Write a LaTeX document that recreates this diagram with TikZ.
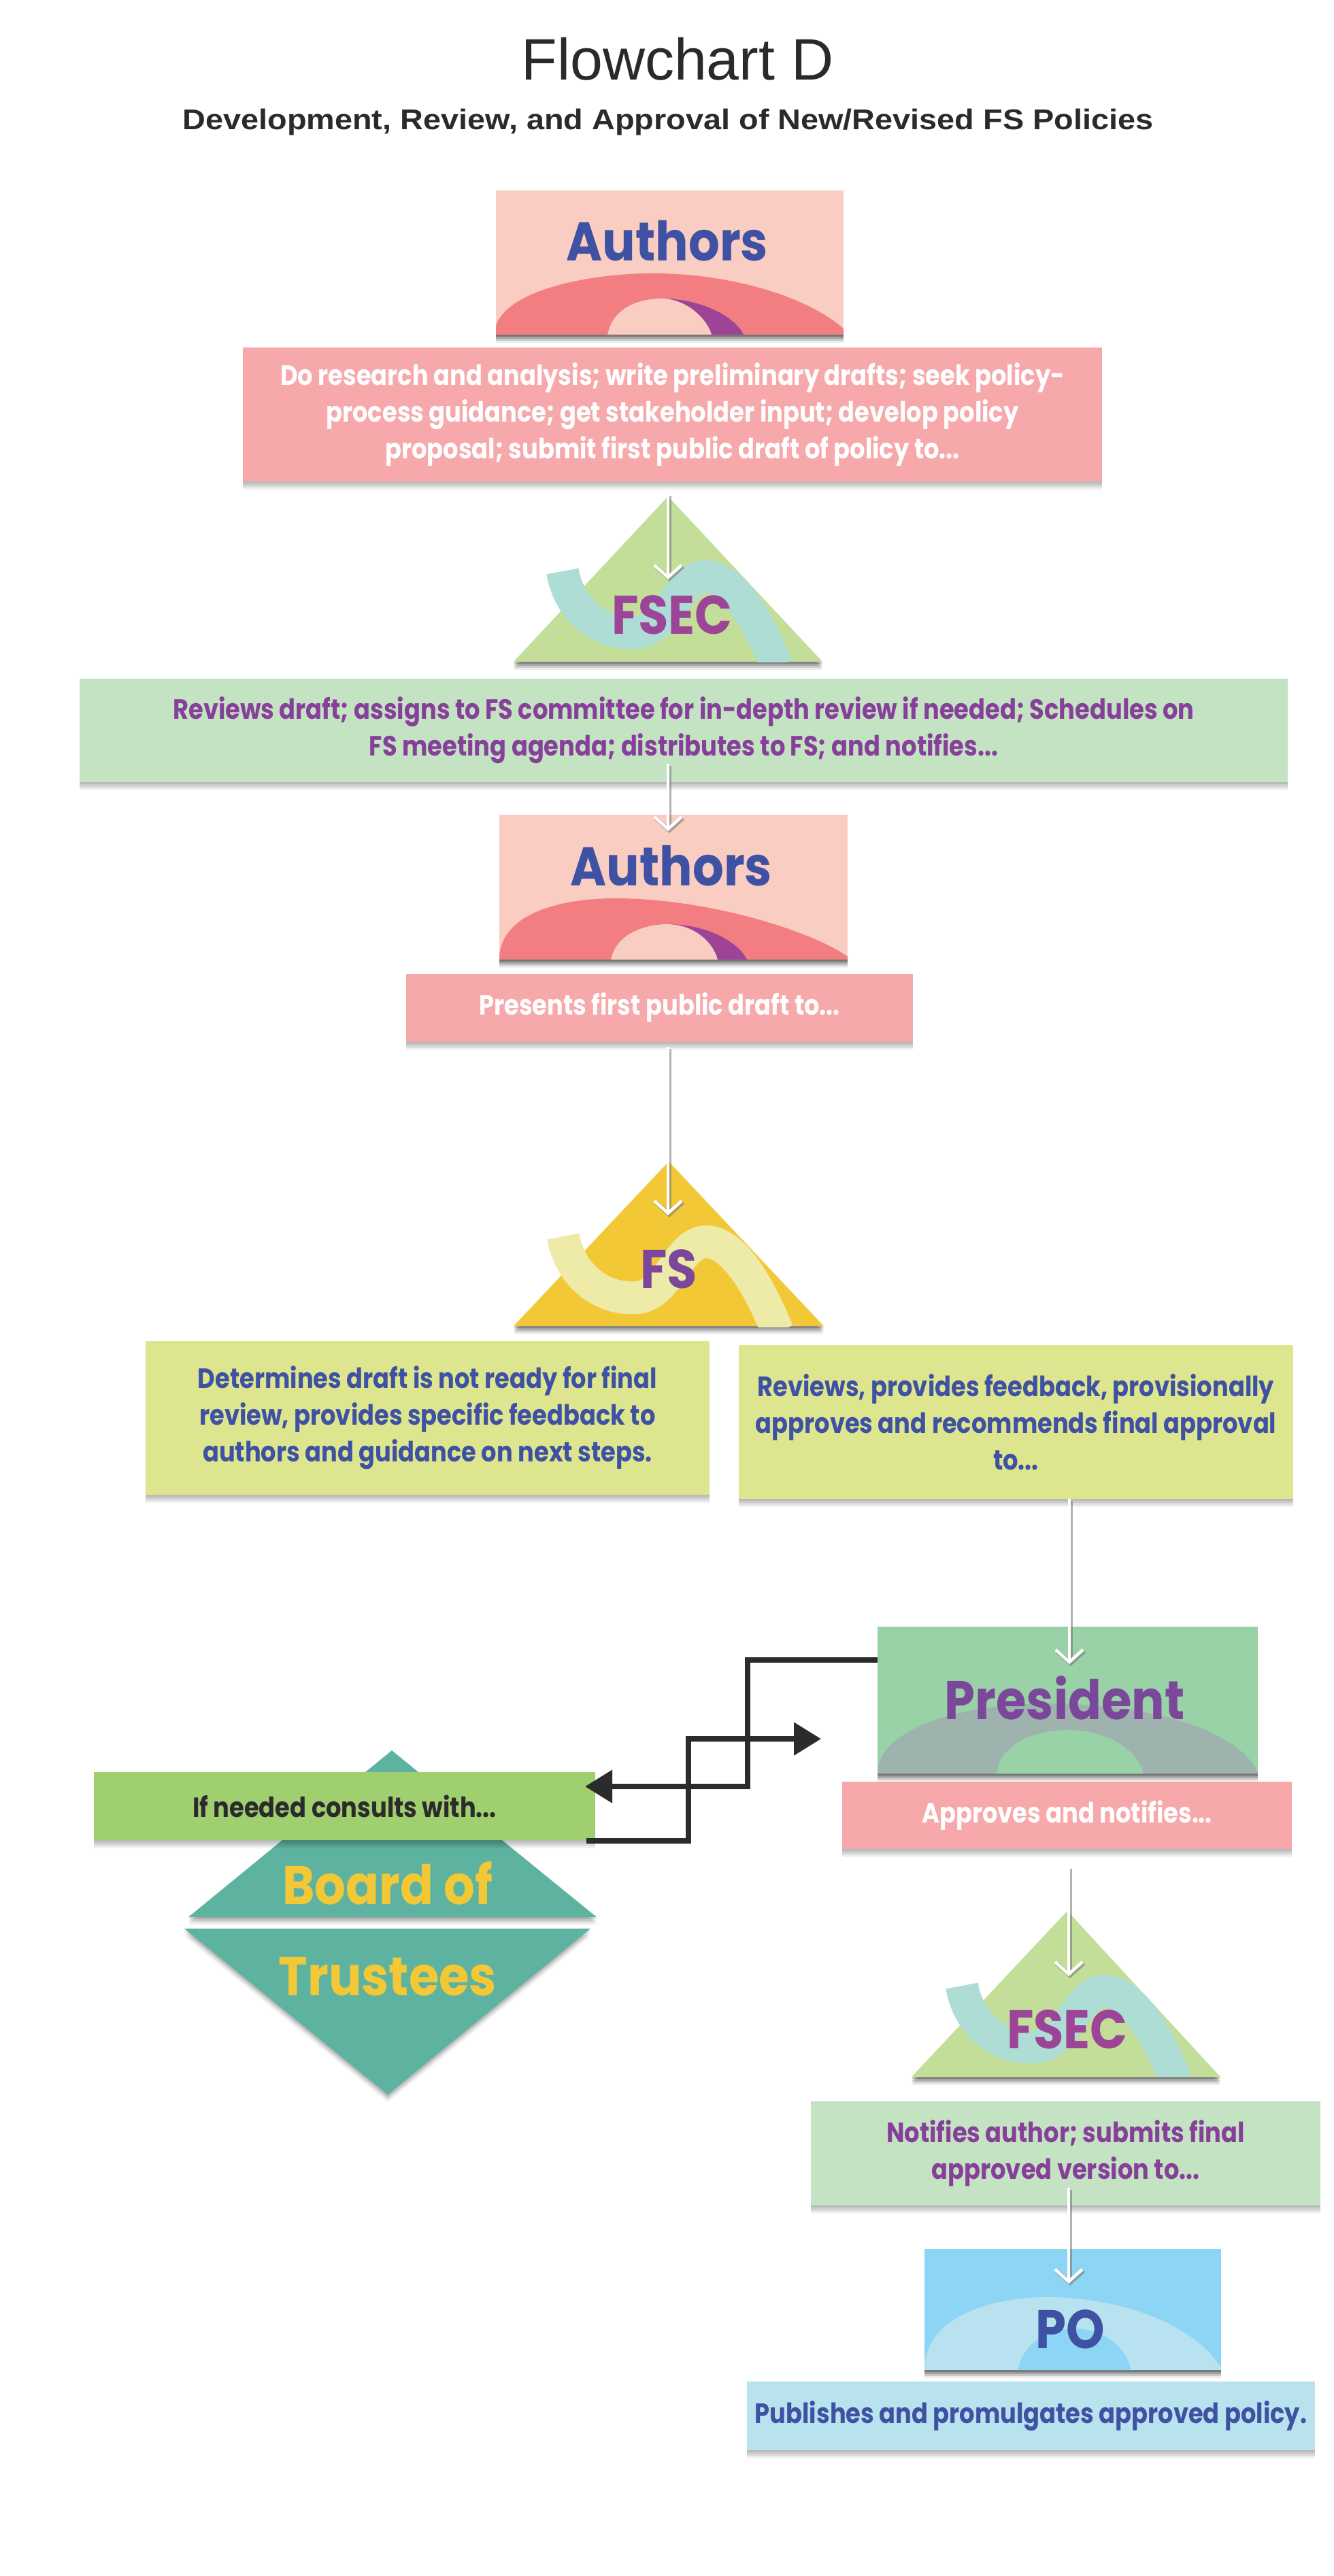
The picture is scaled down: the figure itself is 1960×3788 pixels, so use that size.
\documentclass[tikz,border=0pt]{standalone}
\usepackage{fontspec}
\setmainfont{Liberation Sans}
\newfontfamily\bodyfont[FakeStretch=0.86]{Poppins}
\newfontfamily\labelfont[FakeStretch=0.9]{Poppins}
\newfontfamily\subfont[FakeStretch=1.115]{Liberation Sans}
\usetikzlibrary{arrows.meta,shadows,calc}
\definecolor{titlegray}{HTML}{2A2A2A}
\definecolor{authbg}{HTML}{FACDC2}
\definecolor{archpink}{HTML}{F27E81}
\definecolor{archpurple}{HTML}{9E4497}
\definecolor{authblue}{HTML}{3F51A3}
\definecolor{pinkbox}{HTML}{F7A8AB}
\definecolor{fsecgreen}{HTML}{C3DE98}
\definecolor{tealribbon}{HTML}{AEDDD6}
\definecolor{fsecpurple}{HTML}{9C4497}
\definecolor{mintbox}{HTML}{C4E3C3}
\definecolor{minttext}{HTML}{87409A}
\definecolor{fsyellow}{HTML}{F2C837}
\definecolor{paleyellow}{HTML}{EEEBA8}
\definecolor{fspurple}{HTML}{7B479B}
\definecolor{limebox}{HTML}{DDE68E}
\definecolor{presgreen}{HTML}{9AD2A8}
\definecolor{presarch}{HTML}{9FB3AE}
\definecolor{consultgreen}{HTML}{A0CF70}
\definecolor{darktext}{HTML}{2B2B2B}
\definecolor{boardteal}{HTML}{5EB3A0}
\definecolor{poblue}{HTML}{8DD5F4}
\definecolor{poarch}{HTML}{B8E2EF}
\definecolor{pubbox}{HTML}{B8E2EE}
\tikzset{
  txtbox/.style={rectangle, inner sep=0pt, outer sep=0pt, align=center,
    font=\bodyfont\bfseries\fontsize{41}{54}\selectfont,
    drop shadow={shadow xshift=0pt, shadow yshift=-3pt, opacity=.08, fill=black},
    drop shadow={shadow xshift=0pt, shadow yshift=-6pt, opacity=.08, fill=black},
    drop shadow={shadow xshift=0pt, shadow yshift=-9pt, opacity=.08, fill=black},
    drop shadow={shadow xshift=0pt, shadow yshift=-12pt, opacity=.06, fill=black}},
  iconbox/.style={rectangle, inner sep=0pt, outer sep=0pt,
    drop shadow={shadow xshift=0pt, shadow yshift=-3pt, opacity=.25, fill=black},
    drop shadow={shadow xshift=0pt, shadow yshift=-6pt, opacity=.2, fill=black},
    drop shadow={shadow xshift=0pt, shadow yshift=-9pt, opacity=.15, fill=black},
    drop shadow={shadow xshift=0pt, shadow yshift=-12pt, opacity=.08, fill=black}},
  biglabel/.style={anchor=base, inner sep=0pt, font=\labelfont\bfseries\fontsize{80}{90}\selectfont},
  warrow/.style={draw=white, line width=4.5pt, -{Straight Barb[length=18pt,width=40pt]}},
  wshadow/.style={draw=black!55, opacity=.55, line width=6pt, -{Straight Barb[length=18pt,width=40pt]},
    transform canvas={shift={(2pt,-3pt)}}},
  conn/.style={draw=darktext, line width=8pt, -{Triangle[length=40pt,width=47pt]}}
}
\newcommand{\warr}[2]{\draw[wshadow] #1 -- #2; \draw[warrow] #1 -- #2;}
% soft shadow under a numeric polygon path
\newcommand{\softshadow}[2]{%
  \foreach \d/\o in {3/.22,6/.18,9/.13,12/.07}{%
    \fill[black, opacity=\o*#1, yshift=-\d pt] #2;}}
\newcommand{\ribbon}[1]{%
  \begin{scope}
    \clip (-260,-30) rectangle (260,243);
    \draw[#1, line width=48pt] (-155,110) .. controls (-145,170) and (-95,205) .. (-45,200)
      .. controls (0,195) and (15,118) .. (55,118)
      .. controls (100,118) and (140,200) .. (160,250);
  \end{scope}}
\begin{document}
\begin{tikzpicture}[x=1pt,y=-1pt]
\useasboundingbox[fill=white] (0,0) rectangle (1960,3788);

% ---------- title ----------
\node[anchor=base, inner sep=0pt, font=\fontsize{86}{100}\selectfont, text=titlegray] (title) at (996,117) {Flowchart D};
\node[anchor=base, inner sep=0pt, font=\subfont\bfseries\fontsize{42}{48}\selectfont, text=titlegray] (subtitle) at (982,190) {Development, Review, and Approval of New/Revised FS Policies};

% ---------- Authors 1 ----------
\node[iconbox, fill=authbg, minimum width=511pt, minimum height=212pt] (auth1) at (984.5,386) {};
\begin{scope}
  \clip (auth1.south west) rectangle (auth1.north east);
  \fill[archpink] (727,492) .. controls (727,430) and (860,402) .. (960,402) .. controls (1080,402) and (1200,440) .. (1249,492) -- cycle;
  \fill[archpurple] (893,492) .. controls (900,455) and (935,439) .. (972,439) .. controls (1030,439) and (1080,465) .. (1093,492) -- cycle;
  \fill[authbg] (893,492) .. controls (900,455) and (935,439) .. (972,439) .. controls (1010,439) and (1040,470) .. (1046,492) -- cycle;
\end{scope}
\node[biglabel, text=authblue] (auth1lab) at (981,383) {Authors};

\node[txtbox, fill=pinkbox, text=white, minimum width=1263pt, minimum height=197pt] (t1) at (988.5,609.5)
  {Do research and analysis; write preliminary drafts; seek policy-\\process guidance; get stakeholder input; develop policy\\proposal; submit first public draft of policy to...};

% ---------- FSEC 1 ----------
\softshadow{1}{(755,973) -- (982,730) -- (1209,973) -- cycle}
\fill[fsecgreen] (755,973) -- (982,730) -- (1209,973) -- cycle;
\begin{scope}[shift={(982,730)}]\ribbon{tealribbon}\end{scope}
\node[biglabel, text=fsecpurple] (fsec1) at (988,932) {FSEC};
\coordinate (f1top) at (982,730);
\coordinate (f1in) at (982,852);

\node[txtbox, fill=mintbox, text=minttext, minimum width=1776pt, minimum height=152pt] (t2) at (1005,1074)
  {Reviews draft; assigns to FS committee for in-depth review if needed; Schedules on\\FS meeting agenda; distributes to FS; and notifies...};

% ---------- Authors 2 ----------
\node[iconbox, fill=authbg, minimum width=512pt, minimum height=213pt] (auth2) at (990,1304.5) {};
\begin{scope}
  \clip (auth2.south west) rectangle (auth2.north east);
  \fill[archpink] (734,1411) .. controls (734,1345) and (820,1321) .. (905,1321) .. controls (1040,1321) and (1200,1370) .. (1252,1411) -- cycle;
  \fill[archpurple] (898,1411) .. controls (905,1375) and (945,1359) .. (980,1359) .. controls (1040,1359) and (1085,1385) .. (1098,1411) -- cycle;
  \fill[authbg] (898,1411) .. controls (905,1375) and (945,1359) .. (980,1359) .. controls (1020,1359) and (1048,1385) .. (1055,1411) -- cycle;
\end{scope}
\node[biglabel, text=authblue] (auth2lab) at (987,1302) {Authors};
\coordinate (a2in) at (982,1222);

\node[txtbox, fill=pinkbox, text=white, minimum width=745pt, minimum height=100pt] (t3) at (969.5,1482)
  {Presents first public draft to...};

% ---------- FS ----------
\softshadow{1}{(755,1950) -- (983,1708) -- (1211,1950) -- cycle}
\fill[fsyellow] (755,1950) -- (983,1708) -- (1211,1950) -- cycle;
\begin{scope}[shift={(983,1708)}]\ribbon{paleyellow}\end{scope}
\node[biglabel, text=fspurple] (fs) at (983,1894) {FS};
\coordinate (fsin) at (982,1787);

\node[txtbox, fill=limebox, text=authblue, minimum width=829pt, minimum height=226pt] (t4) at (628.5,2085)
  {Determines draft is not ready for final\\review, provides specific feedback to\\authors and guidance on next steps.};
\node[txtbox, fill=limebox, text=authblue, minimum width=815pt, minimum height=226pt] (t5) at (1493.5,2091)
  {Reviews, provides feedback, provisionally\\approves and recommends final approval\\to...};

% ---------- President ----------
\node[iconbox, fill=presgreen, minimum width=559pt, minimum height=216pt] (pres) at (1569.5,2500) {};
\begin{scope}
  \clip (pres.south west) rectangle (pres.north east);
  \fill[presarch] (1290,2608) .. controls (1290,2540) and (1420,2505) .. (1540,2505) .. controls (1680,2505) and (1820,2540) .. (1850,2608) -- cycle;
  \fill[presgreen] (1465,2608) .. controls (1470,2565) and (1520,2544) .. (1570,2544) .. controls (1625,2544) and (1670,2570) .. (1681,2608) -- cycle;
\end{scope}
\node[biglabel, text=fspurple] (preslab) at (1565,2528) {President};
\coordinate (presin) at (1572,2447);

\node[txtbox, fill=pinkbox, text=white, minimum width=661pt, minimum height=99pt] (t6) at (1568.5,2669.5)
  {Approves and notifies...};

% ---------- Board of Trustees ----------
\softshadow{0.6}{(277,2819) -- (576,2574) -- (877,2819) -- cycle}
\softshadow{0.5}{(271,2836) -- (868,2836) -- (570,3080) -- cycle}
\fill[boardteal] (277,2819) -- (576,2574) -- (877,2819) -- cycle;
\fill[boardteal] (271,2836) -- (868,2836) -- (570,3080) -- cycle;
\node[biglabel, text=fsyellow] (board1) at (570,2800) {Board of};
\node[biglabel, text=fsyellow] (board2) at (570,2934) {Trustees};

\node[txtbox, fill=consultgreen, text=darktext, minimum width=737pt, minimum height=100pt] (consult) at (506.5,2656)
  {If needed consults with...};

% ---------- FSEC 2 ----------
\softshadow{1}{(1340,3054) -- (1569,2810) -- (1794,3054) -- cycle}
\fill[fsecgreen] (1340,3054) -- (1569,2810) -- (1794,3054) -- cycle;
\begin{scope}[shift={(1569,2810)}]\ribbon{tealribbon}\end{scope}
\node[biglabel, text=fsecpurple] (fsec2) at (1569,3012) {FSEC};
\coordinate (f2in) at (1571,2906);

\node[txtbox, fill=mintbox, text=minttext, minimum width=749pt, minimum height=153pt] (t7) at (1566.5,3166)
  {Notifies author; submits final\\approved version to...};

% ---------- PO ----------
\node[iconbox, fill=poblue, minimum width=436pt, minimum height=178pt] (po) at (1577,3396) {};
\begin{scope}
  \clip (po.south west) rectangle (po.north east);
  \fill[poarch] (1359,3485) .. controls (1359,3410) and (1450,3378) .. (1540,3378) .. controls (1650,3378) and (1760,3420) .. (1797,3485) -- cycle;
  \fill[poblue] (1496,3485) .. controls (1505,3445) and (1540,3424) .. (1579,3424) .. controls (1620,3424) and (1655,3450) .. (1663,3485) -- cycle;
\end{scope}
\node[biglabel, text=authblue] (polab) at (1573,3453) {PO};
\coordinate (poin) at (1571,3358);

\node[txtbox, fill=pubbox, text=authblue, minimum width=835pt, minimum height=101pt] (t8) at (1515.5,3552.5)
  {Publishes and promulgates approved policy.};

% ---------- white arrows ----------
\warr{($(t1.south -| f1top)+(0,18)$)}{(f1in)}
\warr{($(t2.south -| f1top)+(0,-27)$)}{(a2in)}
\warr{($(t3.south -| f1top)+(0,8)$)}{(fsin)}
\warr{(t5.south -| presin)}{(presin)}
\warr{($(t6.south -| f2in)+(0,26)$)}{(f2in)}
\warr{($(t7.south -| poin)+(0,-26)$)}{(poin)}

% ---------- black connectors ----------
\coordinate (c2end) at ($(pres.west)+(-83,57)$);
\draw[conn] ($(pres.north west)+(0,49)$) -- ++(-191,0) |- ($(consult.east)+(-15,-29)$);
\draw[conn] ($(consult.south east)+(-13,1)$) -- ++(150,0) |- (c2end);
\end{tikzpicture}
\end{document}
